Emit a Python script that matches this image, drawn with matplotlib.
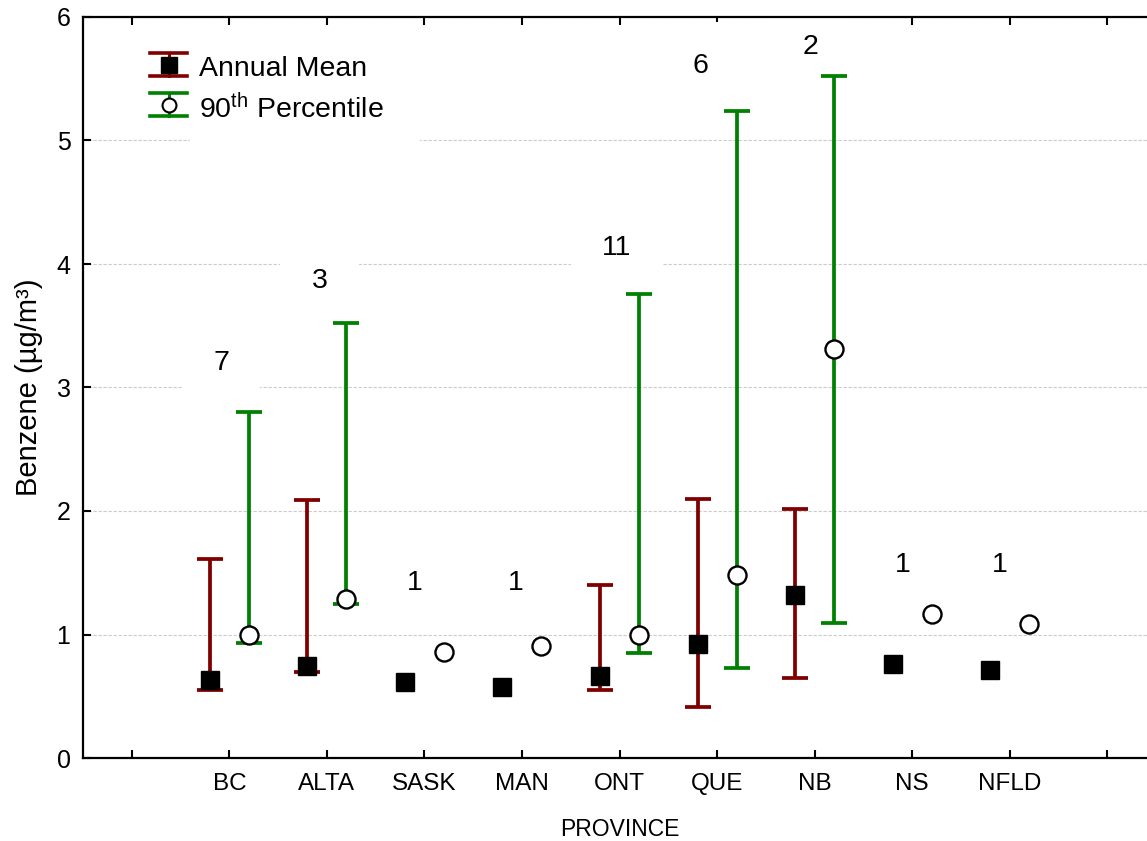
import matplotlib
matplotlib.use("Agg")
import matplotlib.pyplot as plt
from matplotlib.lines import Line2D
from matplotlib.patches import Rectangle
import numpy as np

plt.rcParams['font.family'] = ['Liberation Sans', 'DejaVu Sans']
plt.rcParams['mathtext.fontset'] = 'custom'
plt.rcParams['mathtext.rm'] = 'Liberation Sans'
plt.rcParams['mathtext.it'] = 'Liberation Sans:italic'

provinces = ["BC", "ALTA", "SASK", "MAN", "ONT", "QUE", "NB", "NS", "NFLD"]
n_sites = [7, 3, 1, 1, 11, 6, 2, 1, 1]

mean_val = [0.63, 0.745, 0.615, 0.575, 0.66, 0.92, 1.32, 0.76, 0.71]
mean_lo = [0.55, 0.70, np.nan, np.nan, 0.55, 0.41, 0.65, np.nan, np.nan]
mean_hi = [1.61, 2.09, np.nan, np.nan, 1.40, 2.10, 2.02, np.nan, np.nan]

p90_val = [1.00, 1.29, 0.86, 0.91, 1.00, 1.48, 3.31, 1.17, 1.085]
p90_lo = [0.93, 1.25, np.nan, np.nan, 0.85, 0.73, 1.09, np.nan, np.nan]
p90_hi = [2.80, 3.52, np.nan, np.nan, 3.76, 5.24, 5.52, np.nan, np.nan]

count_label_x = [0.915, 1.925, 2.9, 3.94, 4.97, 5.83, 6.96, 7.9, 8.9]
count_label_y = [3.2, 3.86, 1.42, 1.42, 4.13, 5.6, 5.76, 1.56, 1.56]

W, H = 1147, 841
fig = plt.figure(figsize=(W / 100, H / 100), dpi=100)
AX_L, AX_R, AX_T, AX_B = 83, 1156, 17, 758
ax = fig.add_axes([AX_L / W, (H - AX_B) / H, (AX_R - AX_L) / W, (AX_B - AX_T) / H])

def px(xp, yp):
    """pixel position (from top-left of image) -> axes fraction"""
    return (xp - AX_L) / (AX_R - AX_L), (AX_B - yp) / (AX_B - AX_T)

x = np.arange(1, len(provinces) + 1)
dark_red = "#800000"
green = "#008000"
LW = 2.7
CAP = 9.6

def err(val, lo, hi):
    val = np.array(val); lo = np.array(lo); hi = np.array(hi)
    low = np.where(np.isnan(lo), 0, val - lo)
    up = np.where(np.isnan(hi), 0, hi - val)
    return np.vstack([low, up]), ~np.isnan(lo)

e_mean, has_mean = err(mean_val, mean_lo, mean_hi)
e_p90, has_p90 = err(p90_val, p90_lo, p90_hi)

ax.errorbar(x[has_mean] - 0.2, np.array(mean_val)[has_mean], yerr=e_mean[:, has_mean],
            fmt='none', ecolor=dark_red, elinewidth=LW, capsize=CAP, capthick=LW, zorder=3)
ax.errorbar(x[has_p90] + 0.2, np.array(p90_val)[has_p90], yerr=e_p90[:, has_p90],
            fmt='none', ecolor=green, elinewidth=LW, capsize=CAP, capthick=LW, zorder=3)
ax.plot(x - 0.2, mean_val, 's', color='black', markersize=13.5, zorder=4)
ax.plot(x + 0.2, p90_val, 'o', markerfacecolor='white', markeredgecolor='black',
        markeredgewidth=1.7, markersize=13, zorder=4)

# legend (drawn by hand to mimic error-bar style handles)
bx0, by0 = px(190, 40)
bx1, by1 = px(420, 152)
ax.add_patch(Rectangle((bx0, by1), bx1 - bx0, by0 - by1, transform=ax.transAxes,
                       facecolor='white', edgecolor='none', zorder=2.5))
for yc, col, mk, label in [(65, dark_red, 's', "Annual Mean"),
                           (105, green, 'o', "90$^{\\rm th}$ Percentile")]:
    xl, yt = px(150, yc - 11.5)
    xr, yb = px(187, yc + 11.5)
    xc, ym = px(168.5, yc)
    ax.add_line(Line2D([xl, xr], [yt, yt], transform=ax.transAxes, color=col, lw=2.6, zorder=5))
    ax.add_line(Line2D([xl, xr], [yb, yb], transform=ax.transAxes, color=col, lw=2.6, zorder=5))
    ax.add_line(Line2D([xc, xc], [yb, yt], transform=ax.transAxes, color=col, lw=2.2, zorder=5))
    if mk == 's':
        ax.add_line(Line2D([xc], [ym], transform=ax.transAxes, marker='s', color='black',
                           markersize=11, linestyle='none', zorder=6))
    else:
        ax.add_line(Line2D([xc], [ym], transform=ax.transAxes, marker='o', markerfacecolor='white',
                           markeredgecolor='black', markeredgewidth=1.5, markersize=10,
                           linestyle='none', zorder=6))
    tx, ty = px(199, yc + 4)
    ax.text(tx, ty, label, transform=ax.transAxes, ha='left', va='center', fontsize=20.5, zorder=6)

for xi, yi, n in zip(count_label_x, count_label_y, n_sites):
    ax.text(xi, yi, str(n), ha='center', va='center', fontsize=20.5, zorder=2.5,
            bbox=dict(boxstyle='square,pad=1.1', facecolor='white', edgecolor='none'))

ax.set_xlim(-0.5, 10.5)
ax.set_ylim(0, 6)
ax.set_xticks(np.arange(0, 11))
ax.set_xticklabels([""] + provinces + [""], fontsize=17.5)
ax.set_yticks(np.arange(0, 7))
ax.set_yticklabels([str(i) for i in range(7)], fontsize=18)
ax.tick_params(direction='in', length=6, width=1.5, top=True, right=False)
ax.tick_params(axis='x', pad=11)
ax.tick_params(axis='y', pad=9)
for s in ax.spines.values():
    s.set_linewidth(1.6)

ax.set_axisbelow(True)
ax.yaxis.grid(True, linestyle=(0, (3, 1.5)), color='#cccccc', linewidth=0.8)

ax.set_ylabel("Benzene (µg/m³)", fontsize=21, labelpad=10)
ax.set_xlabel("PROVINCE", fontsize=16.5, labelpad=16)

fig.savefig("out.png", dpi=100)
